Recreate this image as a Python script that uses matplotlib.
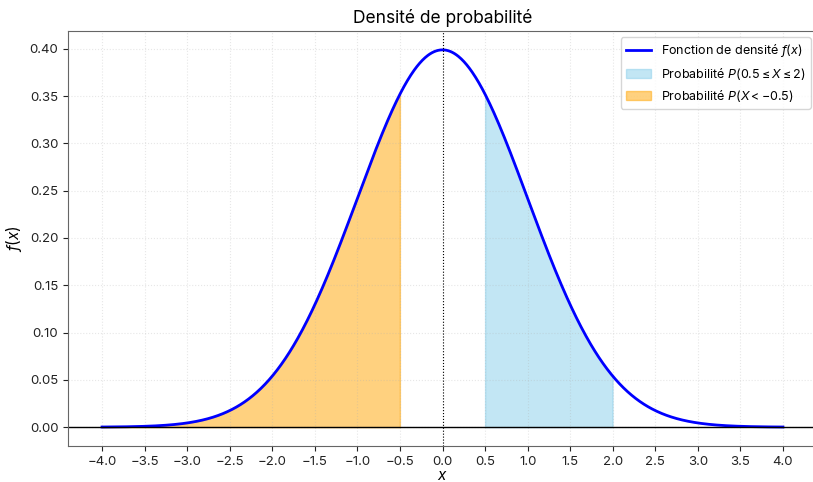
import numpy as np
import matplotlib.pyplot as plt

plt.rcParams["font.family"] = ["Inter", "DejaVu Sans"]
plt.rcParams["mathtext.fontset"] = "custom"
plt.rcParams["mathtext.rm"] = "Inter"
plt.rcParams["mathtext.it"] = "Inter:italic"
plt.rcParams["axes.unicode_minus"] = True

# loi normale centrée réduite
mu = 0.0
sigma = 1.0
x_min, x_max = -4.0, 4.0
a, b = 0.5, 2.0      # P(a <= X <= b)
c = -0.5             # P(X < c)
xticks = [-4.0, -3.5, -3.0, -2.5, -2.0, -1.5, -1.0, -0.5, 0.0,
          0.5, 1.0, 1.5, 2.0, 2.5, 3.0, 3.5, 4.0]
yticks = [0.00, 0.05, 0.10, 0.15, 0.20, 0.25, 0.30, 0.35, 0.40]

x = np.linspace(x_min, x_max, 1000)
y = np.exp(-0.5 * ((x - mu) / sigma) ** 2) / (sigma * np.sqrt(2 * np.pi))

fig = plt.figure(figsize=(8.13, 4.82), dpi=100)
ax = fig.add_axes([68 / 813, 36 / 482, 749 / 813, 415 / 482])

ax.plot(x, y, color="blue", lw=2, label=r"Fonction de densité $f(x)$")
m1 = (x >= a) & (x <= b)
ax.fill_between(x[m1], y[m1], color="skyblue", alpha=0.5,
                label=r"Probabilité $P(0.5 \leq X \leq 2)$")
m2 = x <= c
ax.fill_between(x[m2], y[m2], color="orange", alpha=0.5,
                label=r"Probabilité $P(X < -0.5)$")

ax.axhline(0, color="black", lw=1)
ax.axvline(0, color="black", lw=0.8, ls=":")

ax.set_xticks(xticks)
ax.set_xticklabels([f"{t:.1f}".replace("-", "\u2212") for t in xticks])
ax.set_yticks(yticks)
ax.set_yticklabels([f"{t:.2f}" for t in yticks])
ax.tick_params(labelsize=9.5, colors="#222222", tickdir="out")
ax.set_xlim(-4.4, 4.4)

ax.grid(True, ls=":", alpha=0.3)
for s in ax.spines.values():
    s.set_color("#666666")

ax.set_title("Densité de probabilité", fontsize=12.5)
ax.set_xlabel(r"$x$", fontsize=11, labelpad=0)
ax.set_ylabel(r"$f(x)$", fontsize=11, labelpad=4)
ax.legend(loc="upper right", fontsize=9)

fig.savefig("out.png", dpi=100)
